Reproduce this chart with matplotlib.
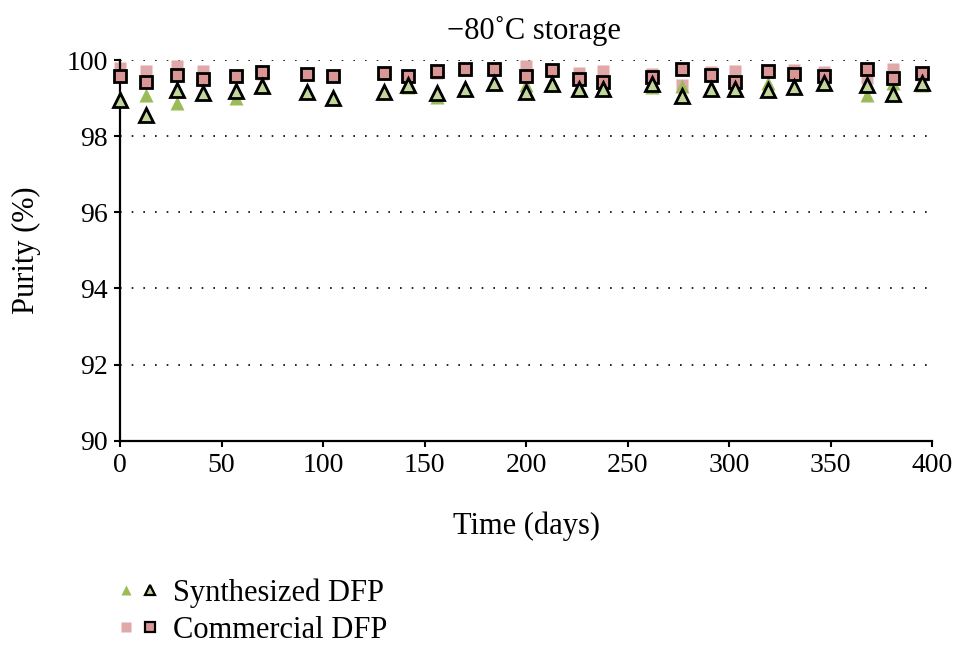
import matplotlib.pyplot as plt
from matplotlib.legend_handler import HandlerTuple
from matplotlib.lines import Line2D

plt.rcParams["font.family"] = ["Liberation Serif", "DejaVu Serif"]

# Storage time (days)
days = [0, 13, 28, 41, 57, 70, 92, 105, 130, 142, 156, 170, 184, 200,
        213, 226, 238, 262, 277, 291, 303, 319, 332, 347, 368, 381, 395]

# Synthesized DFP, two replicates
synth_a = [99.04, 99.09, 98.87, 99.12, 99.00, 99.30, 99.15, 99.00, 99.15, 99.30,
           99.04, 99.27, 99.36, 99.35, 99.35, 99.20, 99.25, 99.30, 99.32, 99.24,
           99.22, 99.39, 99.29, 99.37, 99.09, 99.39, 99.35]
synth_b = [98.96, 98.56, 99.22, 99.13, 99.19, 99.32, 99.15, 99.00, 99.15, 99.35,
           99.13, 99.23, 99.39, 99.15, 99.37, 99.23, 99.23, 99.37, 99.06, 99.24,
           99.23, 99.22, 99.29, 99.39, 99.35, 99.11, 99.39]

# Commercial DFP, two replicates
comm_a = [99.78, 99.70, 99.83, 99.72, 99.58, 99.63, 99.63, 99.58, 99.65, 99.59,
          99.65, 99.74, 99.74, 99.83, 99.72, 99.67, 99.72, 99.63, 99.35, 99.68,
          99.72, 99.72, 99.74, 99.69, 99.52, 99.76, 99.61]
comm_b = [99.58, 99.43, 99.61, 99.50, 99.58, 99.68, 99.63, 99.58, 99.65, 99.59,
          99.72, 99.76, 99.76, 99.59, 99.74, 99.50, 99.42, 99.56, 99.76, 99.61,
          99.42, 99.72, 99.63, 99.59, 99.76, 99.54, 99.65]

GREEN = "#9bbb59"
GREEN_LIGHT = "#c4d79b"
PINK = "#e0a8a8"
PINK_DARK = "#d99694"

fig = plt.figure(figsize=(9.65, 6.46), dpi=100)
ax = fig.add_axes([0.1244, 0.3178, 0.8414, 0.5893])

ax.plot(days, comm_a, "s", ms=9, color=PINK, mec="none", zorder=2, clip_on=False)
ax.plot(days, synth_a, "^", ms=9.5, color=GREEN, mec="none", zorder=3, clip_on=False)
ax.plot(days, comm_b, "s", ms=9, mfc=PINK_DARK, mec="black", mew=2.0, zorder=4,
        clip_on=False)
ax.plot(days, synth_b, "^", ms=10, mfc=GREEN_LIGHT, mec="black", mew=2.0, zorder=5,
        clip_on=False)

ax.set_xlim(0, 400)
ax.set_ylim(90, 100)
ax.set_xticks(range(0, 401, 50))
ax.set_yticks(range(90, 101, 2))
ax.tick_params(labelsize=20, direction="out", length=4, width=1.5, pad=5)
ax.yaxis.grid(True, linestyle=(0, (1, 6)), color="black", linewidth=1.2)
ax.set_axisbelow(True)
for side in ("top", "right"):
    ax.spines[side].set_visible(False)
for side in ("left", "bottom"):
    ax.spines[side].set_linewidth(1.6)

ax.set_xlabel("Time (days)", fontsize=22, labelpad=24)
ax.set_ylabel("Purity (%)", fontsize=22, labelpad=18)
ax.set_title("\u221280\u02daC storage", fontsize=22, pad=15, x=0.51)

h_s1 = Line2D([], [], marker="^", ls="none", ms=7, color=GREEN, mec="none")
h_s2 = Line2D([], [], marker="^", ls="none", ms=7.5, mfc=GREEN_LIGHT, mec="black", mew=1.6)
h_c1 = Line2D([], [], marker="s", ls="none", ms=7, color=PINK, mec="none")
h_c2 = Line2D([], [], marker="s", ls="none", ms=7, mfc=PINK_DARK, mec="black", mew=1.6)
fig.legend([(h_s1, h_s2), (h_c1, h_c2)], ["Synthesized DFP", "Commercial DFP"],
           handler_map={tuple: HandlerTuple(ndivide=None, pad=0.3)},
           loc="upper left", bbox_to_anchor=(0.11, 0.124), frameon=False,
           fontsize=22, handlelength=1.3, handletextpad=0.5, labelspacing=0.27,
           borderaxespad=0)

plt.savefig("out.png", dpi=100)
